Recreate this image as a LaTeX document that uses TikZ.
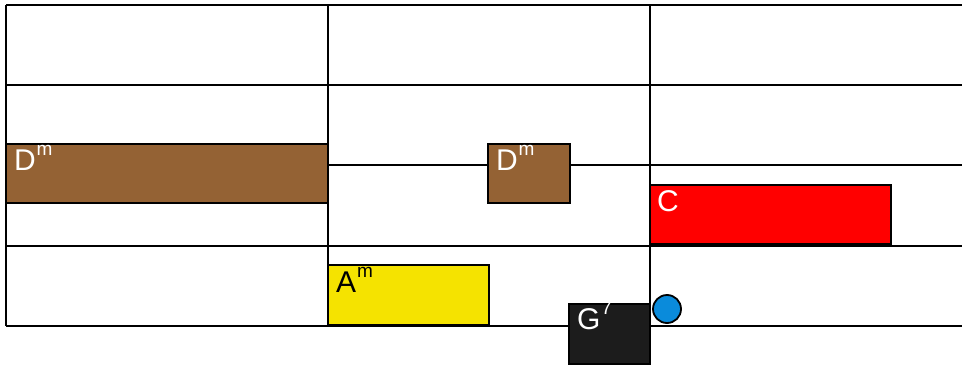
\documentclass[tikz,border=0pt]{standalone}
\usepackage{fontspec}
\setmainfont{Liberation Sans}
\definecolor{chordbrown}{HTML}{946234}
\definecolor{chordyellow}{HTML}{F5E300}
\definecolor{chordred}{HTML}{FF0000}
\definecolor{chordblack}{HTML}{1C1C1C}
\definecolor{dotblue}{HTML}{0A8BDB}
\newcommand{\chordname}[2]{\fontsize{30}{31}\selectfont #1\kern1pt\raisebox{15pt}{\fontsize{19}{19}\selectfont #2}}
\begin{document}
\begin{tikzpicture}[x=1pt,y=-1pt,
  gridline/.style={line width=1.8pt,black},
  chordbox/.style={draw=black,line width=1.8pt,anchor=north west,inner sep=0pt,outer sep=0pt},
  chordlabel/.style={anchor=base west,inner sep=0pt,outer sep=0pt}]
\useasboundingbox (0,0) rectangle (962,367);
% grid
\foreach \yy in {5,85,165,246,326} \draw[gridline] (6,\yy) -- (962,\yy);
\foreach \xx in {6,328,650} \draw[gridline] (\xx,5) -- (\xx,326);
% chord boxes
\node[chordbox,fill=chordbrown,minimum width=322pt,minimum height=59pt] (dm1) at (6,144) {};
\node[chordbox,fill=chordbrown,minimum width=82pt,minimum height=59pt] (dm2) at (488,144) {};
\node[chordbox,fill=chordred,minimum width=241pt,minimum height=59pt] (c) at (650,185) {};
\node[chordbox,fill=chordyellow,minimum width=161pt,minimum height=60pt] (am) at (328,265) {};
\node[chordbox,fill=chordblack,minimum width=81pt,minimum height=60pt] (g7) at (569,304) {};
% labels
\node[chordlabel,text=white] (ldm1) at ([xshift=8pt,yshift=-26pt]dm1.north west) {\chordname{D}{m}};
\node[chordlabel,text=white] (ldm2) at ([xshift=8pt,yshift=-26pt]dm2.north west) {\chordname{D}{m}};
\node[chordlabel,text=white] (lc) at ([xshift=7pt,yshift=-26pt]c.north west) {\chordname{C}{}};
\node[chordlabel,text=black] (lam) at ([xshift=8pt,yshift=-27pt]am.north west) {\chordname{A}{m}};
\node[chordlabel,text=white] (lg7) at ([xshift=8pt,yshift=-25pt]g7.north west) {\chordname{G}{7}};
% dot
\node[circle,draw=black,line width=1.8pt,fill=dotblue,minimum size=28pt,inner sep=0pt] (dot) at (667,309) {};
\end{tikzpicture}
\end{document}
